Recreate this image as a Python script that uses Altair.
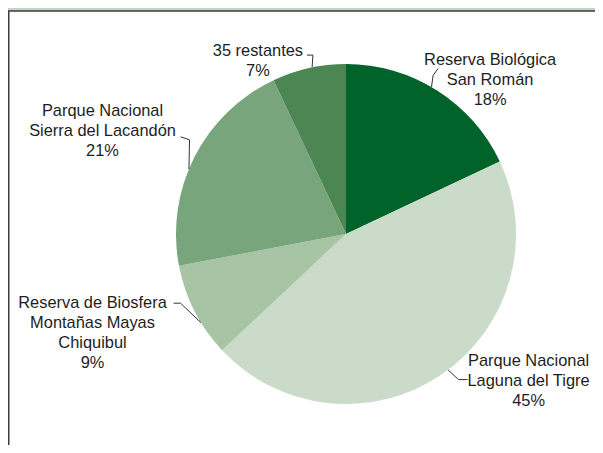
import math
import altair as alt
import pandas as pd

# ---- data ----
categories = [
    "Reserva Biológica San Román",
    "Parque Nacional Laguna del Tigre",
    "Reserva de Biosfera Montañas Mayas Chiquibul",
    "Parque Nacional Sierra del Lacandón",
    "35 restantes",
]
label_lines = [
    "Reserva Biológica\nSan Román",
    "Parque Nacional\nLaguna del Tigre",
    "Reserva de Biosfera\nMontañas Mayas\nChiquibul",
    "Parque Nacional\nSierra del Lacandón",
    "35 restantes",
]
shares = [18, 45, 9, 21, 7]
colors = ["#00632a", "#cadbca", "#a7c4a5", "#79a57c", "#4b8653"]

# ---- layout ----
W, H = 587, 437
CX, CY, R = 338, 226, 170
FONT = "Liberation Sans"
FS = 16.4
LH = 20
TEXT_COLOR = "#1e1e1e"
# label block-centre offset from slice mid-angle edge point
label_offset = [(53, -12), (87, 5), (-102, 17), (-92, -22), (-51, -8)]
# fine vertical tweak of text (multi-line blocks start at the anchor)
text_fine = [2, 1, 5, -4, 1]
# leader line: angle nudge (deg) for the edge end, then points relative to label anchor
leader_nudge = [-2.2, -2.7, -4.4, -4.5, 1.1]
leader_pts = [
    [(-57, -3), (-52, -10)],
    [(-70, 0), (-61, 0)],
    [(88, -25), (81, -25)],
    [(87, 5), (78, 2)],
    [(55, -5), (49, -5)],
]

df = pd.DataFrame({
    "cat": categories,
    "share": shares,
    "idx": list(range(len(shares))),
    "label": [f"{l}\n{s}%" for l, s in zip(label_lines, shares)],
})

total = sum(shares)
mids = []
cum = 0
for s in shares:
    mids.append((cum + s / 2) / total * 2 * math.pi)
    cum += s

def polar(a, r):
    return CX + r * math.sin(a), CY - r * math.cos(a)

rows = []
for i, a in enumerate(mids):
    ex, ey = polar(a, R)
    ax_, ay_ = ex + label_offset[i][0], ey + label_offset[i][1]
    sx, sy = polar(a + math.radians(leader_nudge[i]), R)
    pts = [(sx, sy)] + [(ax_ + dx, ay_ + dy) for dx, dy in leader_pts[i]]
    for k, (px, py) in enumerate(pts):
        rows.append({"seg": i, "o": k, "x": px, "y": py})
leaders = pd.DataFrame(rows)

frame = alt.Chart(pd.DataFrame({"a": [0]})).mark_rect(
    fill="white", stroke="#3d3d3d", strokeWidth=1.5
).encode(
    x=alt.value(0.75), x2=alt.value(W + 20), y=alt.value(3), y2=alt.value(H + 20)
)

base = alt.Chart(df)
pie = base.mark_arc(radius=R).encode(
    theta=alt.Theta("share:Q", stack=True),
    color=alt.Color("cat:N", scale=alt.Scale(domain=categories, range=colors), legend=None),
    order=alt.Order("idx:Q"),
    x=alt.value(CX),
    y=alt.value(CY),
)

text_layers = []
for i in range(len(shares)):
    n_lines = df["label"][i].count("\n") + 1
    tdy = label_offset[i][1] - (n_lines - 1) * LH / 2 + text_fine[i]
    t = base.transform_window(
        cum="sum(share)", sort=[alt.SortField("idx")], frame=[None, 0]
    ).transform_joinaggregate(
        total="sum(share)"
    ).transform_calculate(
        mid="(datum.cum - datum.share / 2) / datum.total * 2 * PI"
    ).transform_filter(
        alt.datum.idx == i
    ).mark_text(
        radius=R, dx=label_offset[i][0], dy=tdy,
        align="center", baseline="middle", lineBreak="\n", lineHeight=LH,
        font=FONT, fontSize=FS, color=TEXT_COLOR,
    ).encode(
        theta=alt.Theta("mid:Q", scale=None),
        x=alt.value(CX),
        y=alt.value(CY),
        text="label:N",
    )
    text_layers.append(t)

lines = alt.Chart(leaders).mark_line(color="#333333", strokeWidth=1).encode(
    x=alt.X("x:Q", scale=None, axis=None),
    y=alt.Y("y:Q", scale=None, axis=None),
    detail="seg:N",
    order="o:Q",
)

chart = alt.layer(frame, pie, lines, *text_layers).properties(
    width=W, height=H, padding=0,
    autosize=alt.AutoSizeParams(type="none"),
    background="#c3d6c3",
).configure_view(stroke=None)

chart.save("out.html", embed_options={"renderer": "svg", "actions": False})
